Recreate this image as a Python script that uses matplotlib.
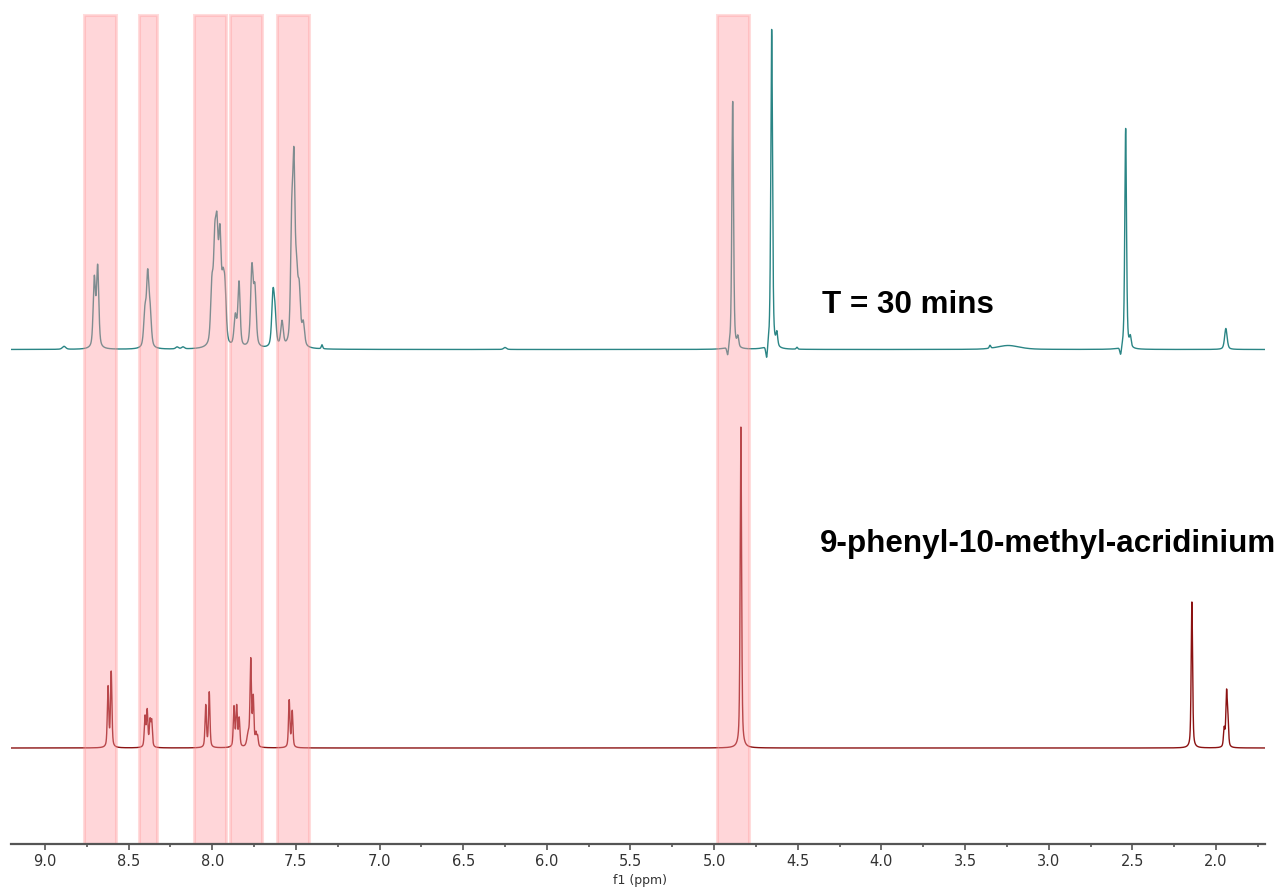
"""
1H NMR stack: reaction mixture after 30 min vs. 9-phenyl-10-methyl-acridinium reference.
"""

import numpy as np
import matplotlib
matplotlib.use("Agg")
from matplotlib import pyplot as plt

# ppm window of the plot
ppm_left = 9.203
ppm_right = 1.707

# highlighted regions (ppm)
band_start = [8.767, 8.438, 8.109, 7.894, 7.611, 4.981]
band_end = [8.577, 8.332, 7.920, 7.705, 7.420, 4.790]

# T = 30 mins spectrum: peak positions, heights and half widths
t30_ppm = [8.886, 8.705, 8.685, 8.402, 8.386, 8.372, 8.210, 8.175,
           8.002, 7.985, 7.972, 7.954, 7.936, 7.924, 7.862, 7.840,
           7.763, 7.745, 7.637, 7.625, 7.583, 7.525, 7.512, 7.496,
           7.480, 7.456, 7.344, 6.250, 4.919, 4.889, 4.858, 4.686,
           4.656, 4.625, 4.505, 3.351, 3.242, 2.570, 2.540, 2.512, 1.941]
t30_height = [3, 68, 80, 35, 66, 35, 2, 2,
              55, 85, 95, 100, 48, 48, 30, 64,
              78, 55, 50, 28, 25, 110, 165, 60,
              50, 22, 4, 2, -10, 248, 10, -14,
              320, 13, 2, 3, 4, -9, 221, 10, 21]
t30_width = [0.012, 0.008, 0.008, 0.009, 0.008, 0.009, 0.01, 0.01,
             0.009, 0.009, 0.009, 0.009, 0.009, 0.009, 0.009, 0.008,
             0.009, 0.009, 0.009, 0.009, 0.009, 0.008, 0.008, 0.009,
             0.009, 0.009, 0.005, 0.01, 0.006, 0.006, 0.006, 0.006,
             0.006, 0.006, 0.005, 0.005, 0.08, 0.006, 0.006, 0.006, 0.009]

# reference compound spectrum
ref_ppm = [8.623, 8.604, 8.402, 8.389, 8.372, 8.362, 8.039, 8.018,
           7.870, 7.854, 7.839, 7.785, 7.770, 7.755, 7.739, 7.729,
           7.540, 7.522, 4.840, 2.144, 1.951, 1.937, 1.929]
ref_height = [60, 75, 30, 36, 25, 25, 42, 55,
              40, 40, 28, 12, 85, 48, 12, 10,
              47, 36, 321, 146, 18, 52, 25]
ref_width = [0.005] * 11 + [0.009] + [0.005] * 11

labels = ['T = 30 mins', '9-phenyl-10-methyl-acridinium']


def spectrum(x, centers, heights, widths):
    # pseudo-Voigt lines, half Lorentzian / half Gaussian
    y = np.zeros_like(x)
    for c, h, w in zip(centers, heights, widths):
        lor = w ** 2 / ((x - c) ** 2 + w ** 2)
        gau = np.exp(-np.log(2) * ((x - c) / w) ** 2)
        y += h * (0.5 * lor + 0.5 * gau)
    return y


def main():
    fig = plt.figure(figsize=(12.8, 8.88), dpi=100)
    ax = fig.add_axes([11 / 1280, 44 / 888, 1254 / 1280, 844 / 888])

    x = np.linspace(ppm_left, ppm_right, 30000)
    ax.plot(x, 494.5 + spectrum(x, t30_ppm, t30_height, t30_width),
            color='#2a8585', lw=1.0, zorder=1)
    ax.plot(x, 96 + spectrum(x, ref_ppm, ref_height, ref_width),
            color='#8b1212', lw=1.0, zorder=1)

    for a, b in zip(band_start, band_end):
        ax.axvspan(a, b, ymin=0, ymax=829 / 844,
                   facecolor=(1, 0.6, 0.63, 0.4),
                   edgecolor=(1, 0.55, 0.55, 0.3), lw=2.2, zorder=2)

    ax.set_xlim(ppm_left, ppm_right)
    ax.set_ylim(0, 844)
    ax.patch.set_alpha(0)

    for s in ['left', 'right', 'top']:
        ax.spines[s].set_visible(False)
    ax.spines['bottom'].set_color('#555555')
    ax.spines['bottom'].set_linewidth(1.6)
    ax.set_yticks([])
    ax.set_xticks(np.arange(9.0, 1.9, -0.5))
    ax.set_xticks(np.arange(8.75, 1.7, -0.5), minor=True)
    ax.set_xticklabels(['%.1f' % v for v in np.arange(9.0, 1.9, -0.5)])
    ax.tick_params(axis='x', which='major', length=4, width=1.2,
                   color='#555555', labelsize=10.5, labelcolor='#333333', pad=3)
    ax.tick_params(axis='x', which='minor', length=2.5, width=1.2, color='#555555')

    fig.text(0.5, 8 / 888, 'f1 (ppm)', ha='center', va='center',
             fontsize=9, color='#333333')

    fig.text(821.7 / 1280, (888 - 313.3) / 888, labels[0], ha='left',
             va='baseline', fontsize=22.6, fontweight='bold',
             family='Liberation Sans', color='black')
    fig.text(820 / 1280, (888 - 551.7) / 888, labels[1], ha='left',
             va='baseline', fontsize=22.6, fontweight='bold',
             family='Liberation Sans', color='black')

    fig.savefig('out.png', dpi=100)


if __name__ == '__main__':
    main()
